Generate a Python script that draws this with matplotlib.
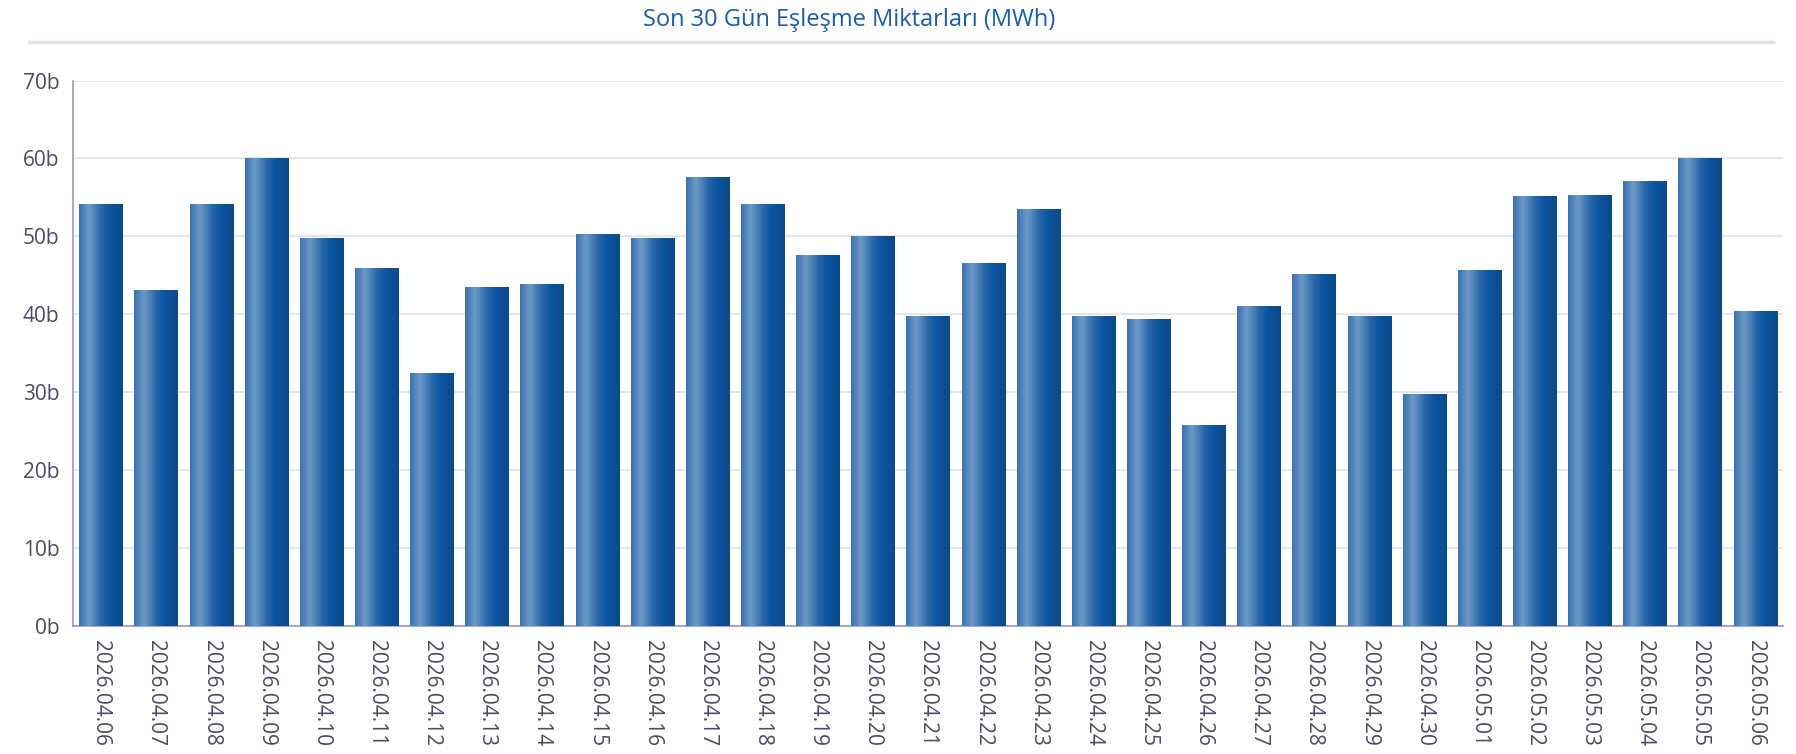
import numpy as np
import matplotlib
matplotlib.use("Agg")
import matplotlib.pyplot as plt
from matplotlib.colors import LinearSegmentedColormap
from matplotlib.lines import Line2D

plt.rcParams['font.family'] = ['Open Sans', 'DejaVu Sans']

# Veriler
tarihler = ['2026.04.06', '2026.04.07', '2026.04.08', '2026.04.09', '2026.04.10',
            '2026.04.11', '2026.04.12', '2026.04.13', '2026.04.14', '2026.04.15',
            '2026.04.16', '2026.04.17', '2026.04.18', '2026.04.19', '2026.04.20',
            '2026.04.21', '2026.04.22', '2026.04.23', '2026.04.24', '2026.04.25',
            '2026.04.26', '2026.04.27', '2026.04.28', '2026.04.29', '2026.04.30',
            '2026.05.01', '2026.05.02', '2026.05.03', '2026.05.04', '2026.05.05',
            '2026.05.06']
miktarlar = [54.1, 43.1, 54.1, 60.0, 49.7, 45.9, 32.4, 43.4, 43.8, 50.3,
             49.7, 57.5, 54.1, 47.6, 50.0, 39.7, 46.5, 53.4, 39.7, 39.3,
             25.7, 41.0, 45.1, 39.7, 29.7, 45.6, 55.1, 55.3, 57.1, 60.0,
             40.3]
y_ticks = [0, 10, 20, 30, 40, 50, 60, 70]
y_etiketler = ['0b', '10b', '20b', '30b', '40b', '50b', '60b', '70b']

text_color = '#4a4a62'
grid_color = '#e0e0ec'
axis_color = '#9a9ab8'

# Bar gradyani (soldan saga)
cmap = LinearSegmentedColormap.from_list('bar', [
    (0.0, '#3b72b0'), (0.22, '#6e9bc8'), (0.5, '#2a67a9'),
    (0.72, '#0a54a0'), (1.0, '#0d4a8a')])
grad = np.linspace(0, 1, 64).reshape(1, -1)

fig = plt.figure(figsize=(17.96, 7.54), dpi=100)
ax = fig.add_axes([0.0408, 0.1698, 0.9518, 0.7234])

genislik = 0.78
for i, v in enumerate(miktarlar):
    ax.imshow(grad, cmap=cmap, aspect='auto', interpolation='bicubic',
              extent=[i - genislik / 2, i + genislik / 2, 0, v], zorder=3)

ax.set_xlim(-0.5, len(tarihler) - 0.5)
ax.set_ylim(0, 70)
ax.set_yticks(y_ticks)
ax.set_yticklabels(y_etiketler)
ax.set_xticks(range(len(tarihler)))
ax.set_xticklabels(tarihler, rotation=-90)
ax.tick_params(axis='both', length=0, labelsize=15, colors=text_color)
ax.tick_params(axis='x', pad=10)
ax.tick_params(axis='y', pad=10)
ax.grid(axis='y', color=grid_color, linewidth=1.2, zorder=0)
ax.set_axisbelow(True)

for s in ['top', 'right']:
    ax.spines[s].set_visible(False)
ax.spines['left'].set_color(axis_color)
ax.spines['bottom'].set_color(axis_color)
ax.spines['left'].set_linewidth(1.2)
ax.spines['bottom'].set_linewidth(1.2)

# Baslik ve alt cizgi
fig.text(0.473, 0.973, 'Son 30 Gün Eşleşme Miktarları (MWh)', ha='center', va='center',
         fontsize=17, color='#1a5ca8')
fig.add_artist(Line2D([29 / 1796, 1773 / 1796], [1 - 42 / 754, 1 - 42 / 754],
                      transform=fig.transFigure, color='#e0e0ea', linewidth=2.5))

fig.savefig('out.png', dpi=100)
